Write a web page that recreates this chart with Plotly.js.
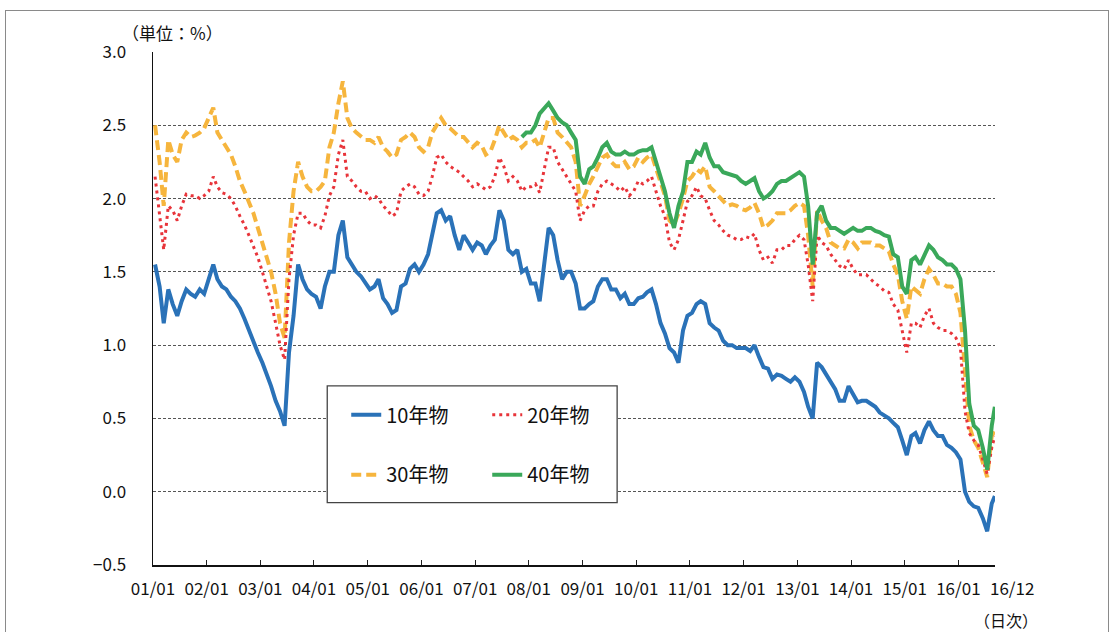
<!DOCTYPE html>
<html><head><meta charset="utf-8">
<script src="https://cdn.plot.ly/plotly-3.0.1.min.js"></script>
<style>
html,body{margin:0;padding:0;background:#fff;}
#wrap{position:relative;width:1118px;height:632px;overflow:hidden;}
#chart{width:1118px;height:632px;}
#frame{position:absolute;left:5px;top:10px;width:1102px;height:700px;border:1px solid #8a8a8a;pointer-events:none;}
</style></head><body>
<div id="wrap"><div id="chart"></div><div id="frame"></div></div>
<script>
// Monthly readings (mid-month), Jan 2001 .. Aug 2016, plus the last observation (early Sep 2016)
const jgb10 = [
 1.55,1.40,1.15,1.38,1.28,1.20,1.30,1.38,1.35,1.33,1.38,1.35,
 1.45,1.55,1.45,1.40,1.38,1.33,1.30,1.25,1.18,1.10,1.02,0.95,
 0.88,0.80,0.72,0.62,0.55,0.45,0.95,1.20,1.55,1.45,1.38,1.35,
 1.33,1.25,1.40,1.50,1.50,1.75,1.85,1.60,1.55,1.50,1.47,1.42,
 1.38,1.40,1.45,1.32,1.28,1.22,1.24,1.40,1.42,1.52,1.55,1.50,
 1.55,1.62,1.75,1.90,1.92,1.85,1.88,1.75,1.65,1.75,1.70,1.65,
 1.70,1.68,1.62,1.68,1.72,1.92,1.85,1.65,1.62,1.65,1.50,1.52,
 1.42,1.42,1.30,1.55,1.80,1.75,1.58,1.45,1.50,1.50,1.42,1.25,
 1.25,1.28,1.30,1.40,1.45,1.45,1.38,1.38,1.32,1.35,1.28,1.28,
 1.32,1.33,1.36,1.38,1.28,1.15,1.08,0.98,0.95,0.88,1.10,1.20,
 1.22,1.28,1.30,1.28,1.15,1.12,1.10,1.03,1.00,1.00,0.98,0.98,
 0.98,0.96,1.00,0.92,0.85,0.84,0.77,0.80,0.79,0.77,0.75,0.78,
 0.75,0.68,0.58,0.50,0.88,0.85,0.80,0.75,0.70,0.62,0.62,0.72,
 0.66,0.61,0.62,0.62,0.60,0.58,0.54,0.52,0.50,0.47,0.44,0.35,
 0.25,0.38,0.40,0.33,0.42,0.48,0.42,0.38,0.38,0.32,0.30,0.27,
 0.22,0.00,-0.07,-0.10,-0.11,-0.18,-0.27,-0.08,-0.03
];
const jgb20 = [
 2.15,1.90,1.65,1.95,1.92,1.85,1.95,2.03,2.02,2.02,2.00,2.02,
 2.05,2.15,2.08,2.04,2.03,2.00,1.95,1.88,1.82,1.75,1.68,1.60,
 1.50,1.40,1.30,1.15,1.00,0.90,1.45,1.75,1.90,1.90,1.85,1.82,
 1.82,1.80,1.88,2.02,2.08,2.30,2.40,2.15,2.12,2.08,2.05,2.05,
 2.00,2.02,2.00,1.95,1.92,1.88,1.90,2.05,2.08,2.10,2.08,2.03,
 2.02,2.05,2.15,2.28,2.30,2.25,2.22,2.20,2.18,2.15,2.12,2.08,
 2.10,2.08,2.06,2.08,2.15,2.28,2.22,2.12,2.15,2.12,2.05,2.08,
 2.08,2.10,2.04,2.20,2.35,2.35,2.25,2.20,2.15,2.10,2.05,1.85,
 1.92,1.95,1.95,2.05,2.10,2.12,2.10,2.08,2.05,2.08,2.02,2.05,
 2.12,2.10,2.12,2.15,2.05,1.95,1.88,1.70,1.65,1.72,1.85,1.98,
 2.02,2.08,2.02,2.00,1.92,1.85,1.82,1.78,1.75,1.74,1.72,1.72,
 1.74,1.73,1.76,1.65,1.58,1.60,1.56,1.65,1.65,1.68,1.68,1.72,
 1.75,1.72,1.55,1.30,1.75,1.70,1.68,1.62,1.58,1.54,1.52,1.58,
 1.52,1.48,1.48,1.48,1.45,1.42,1.40,1.37,1.36,1.28,1.24,1.10,
 0.95,1.15,1.15,1.12,1.20,1.25,1.15,1.12,1.10,1.10,1.08,1.05,
 0.98,0.55,0.40,0.35,0.32,0.22,0.12,0.30,0.38
];
const jgb30 = [
 2.50,2.25,1.95,2.40,2.30,2.25,2.40,2.45,2.42,2.43,2.45,2.48,
 2.55,2.62,2.45,2.40,2.35,2.30,2.22,2.12,2.05,1.98,1.90,1.80,
 1.70,1.60,1.50,1.35,1.15,1.05,1.70,2.05,2.25,2.15,2.08,2.05,
 2.05,2.08,2.12,2.35,2.45,2.65,2.80,2.55,2.48,2.45,2.42,2.40,
 2.40,2.38,2.42,2.35,2.32,2.28,2.30,2.40,2.42,2.45,2.42,2.35,
 2.32,2.35,2.45,2.50,2.55,2.50,2.48,2.45,2.42,2.42,2.38,2.35,
 2.38,2.36,2.30,2.32,2.40,2.50,2.45,2.40,2.42,2.40,2.35,2.38,
 2.38,2.40,2.35,2.45,2.55,2.55,2.45,2.42,2.38,2.35,2.25,1.95,
 2.02,2.10,2.15,2.22,2.28,2.30,2.25,2.22,2.22,2.25,2.20,2.22,
 2.28,2.25,2.28,2.30,2.20,2.10,2.02,1.85,1.82,1.90,2.00,2.12,
 2.15,2.20,2.18,2.22,2.08,2.05,2.02,1.98,1.95,1.96,1.95,1.93,
 1.92,1.94,1.97,1.90,1.80,1.82,1.85,1.90,1.90,1.90,1.92,1.95,
 1.97,1.95,1.75,1.40,1.92,1.85,1.80,1.70,1.68,1.66,1.66,1.72,
 1.70,1.66,1.70,1.70,1.70,1.68,1.68,1.66,1.64,1.55,1.48,1.30,
 1.18,1.40,1.38,1.35,1.45,1.52,1.48,1.42,1.42,1.40,1.40,1.35,
 1.22,0.80,0.45,0.35,0.30,0.20,0.10,0.38,0.42
];
// 40-year bond: first issued Nov 2007
const jgb40Start = '2007-11';
const jgb40 = [
 2.42,2.45,
 2.45,2.50,2.58,2.62,2.65,2.60,2.55,2.52,2.50,2.45,2.40,2.15,
 2.10,2.20,2.22,2.28,2.35,2.38,2.32,2.30,2.30,2.32,2.30,2.30,
 2.32,2.33,2.33,2.35,2.25,2.15,2.05,1.90,1.80,1.95,2.05,2.25,
 2.25,2.32,2.30,2.38,2.28,2.22,2.22,2.18,2.17,2.16,2.15,2.12,
 2.10,2.12,2.14,2.05,2.00,2.02,2.05,2.10,2.12,2.12,2.14,2.16,
 2.18,2.15,1.95,1.55,1.90,1.95,1.85,1.80,1.80,1.78,1.76,1.78,
 1.80,1.78,1.78,1.80,1.80,1.78,1.77,1.75,1.74,1.62,1.60,1.40,
 1.35,1.58,1.60,1.55,1.62,1.68,1.65,1.60,1.58,1.55,1.55,1.52,
 1.45,1.10,0.60,0.45,0.42,0.30,0.15,0.45,0.58
];
const seriesNames = ['10年物','20年物','30年物','40年物'];
const xTickLabels = ['01/01','02/01','03/01','04/01','05/01','06/01','07/01','08/01',
  '09/01','10/01','11/01','12/01','13/01','14/01','15/01','16/01'];
const xEndLabel = '16/12';
const yTickVals = [-0.5,0.0,0.5,1.0,1.5,2.0,2.5,3.0];
const lastObs = '2016-09-05';

// monthly dates
const dates = [];
for (let m = 0; m < jgb10.length - 1; m++) {
  const y = 2001 + Math.floor(m / 12), mo = (m % 12) + 1;
  dates.push(y + '-' + String(mo).padStart(2, '0') + '-15');
}
dates.push(lastObs);
const i40 = dates.findIndex(d => d.startsWith(jgb40Start));
const y40 = dates.map((d, i) => i < i40 ? null : jgb40[i - i40]);
const yearTicks = xTickLabels.map((t, i) => (2001 + i) + '-01-01');

const FONT = "'Noto Sans CJK JP', 'Noto Sans', sans-serif";
const traces = [
  {x: dates, y: jgb10, name: seriesNames[0], type: 'scatter', mode: 'lines',
   line: {color: '#2a72b8', width: 4}, legend: 'legend'},
  {x: dates, y: jgb30, name: seriesNames[2], type: 'scatter', mode: 'lines',
   line: {color: '#f6b53d', width: 4, dash: '10px,5px'}, legend: 'legend2'},
  {x: dates, y: jgb20, name: seriesNames[1], type: 'scatter', mode: 'lines',
   line: {color: '#e8343a', width: 3, dash: '3px,4px'}, legend: 'legend'},
  {x: dates, y: y40, name: seriesNames[3], type: 'scatter', mode: 'lines',
   line: {color: '#3aa85a', width: 4}, legend: 'legend2', connectgaps: false}
];

const L = 152.7, R = 995, T = 51.6, B = 565.5, W = 1118, H = 632;
const px2x = p => (p - L) / (R - L);
const px2y = p => 1 - (p - T) / (B - T);

const legendBase = {orientation: 'h', xanchor: 'left', yanchor: 'middle',
  entrywidth: 96, entrywidthmode: 'pixels', bgcolor: 'rgba(0,0,0,0)', borderwidth: 0,
  font: {family: FONT, size: 20, color: '#111'}};

const layout = {
  width: W, height: H, autosize: false,
  margin: {l: L, r: W - R, t: T, b: H - B, pad: 0},
  paper_bgcolor: '#fff', plot_bgcolor: '#fff',
  font: {family: FONT, size: 17, color: '#111'},
  showlegend: true,
  legend: Object.assign({}, legendBase, {x: px2x(346), y: px2y(415)}),
  legend2: Object.assign({}, legendBase, {x: px2x(346), y: px2y(475)}),
  xaxis: {type: 'date', range: ['2001-01-01', '2016-09-06'],
    tickmode: 'array', tickvals: yearTicks, ticktext: xTickLabels,
    ticks: 'inside', ticklen: 5, tickwidth: 1, tickcolor: '#222',
    showgrid: false, zeroline: false, showline: true, linecolor: '#111', linewidth: 1.5,
    tickfont: {family: FONT, size: 17, color: '#111'}, ticklabelstandoff: 8, fixedrange: true},
  yaxis: {range: [-0.5, 3.0], tickmode: 'array', tickvals: yTickVals, tickformat: '.1f',
    ticks: '', showgrid: true, gridcolor: '#555', gridwidth: 1, griddash: '3px,2px',
    zeroline: false, showline: true, linecolor: '#111', linewidth: 1.5,
    tickfont: {family: FONT, size: 17, color: '#111'}, ticklabelstandoff: 22, fixedrange: true},
  shapes: [
    {type: 'rect', xref: 'paper', yref: 'paper', layer: 'above',
     x0: px2x(327), x1: px2x(617), y0: px2y(503), y1: px2y(386),
     line: {color: '#444', width: 1.3}, fillcolor: '#fff'}
  ],
  annotations: [
    {text: '（単位：%）', xref: 'paper', yref: 'paper', x: px2x(172), y: px2y(32),
     xanchor: 'center', yanchor: 'middle',
     showarrow: false, font: {family: FONT, size: 17, color: '#111'}},
    {text: xEndLabel, xref: 'paper', yref: 'paper', x: px2x(1012), y: px2y(588),
     xanchor: 'center', yanchor: 'middle',
     showarrow: false, font: {family: FONT, size: 17, color: '#111'}},
    {text: '（日次）', xref: 'paper', yref: 'paper', x: px2x(1006), y: px2y(621),
     xanchor: 'center', yanchor: 'middle',
     showarrow: false, font: {family: FONT, size: 16, color: '#111'}}
  ]
};
Plotly.newPlot('chart', traces, layout, {staticPlot: true, displayModeBar: false});
</script>
</body></html>
